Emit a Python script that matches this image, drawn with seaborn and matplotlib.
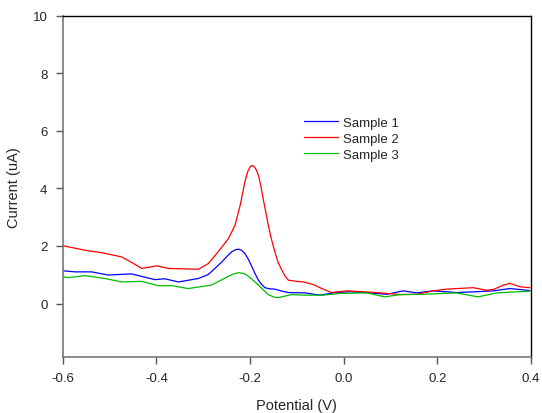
import matplotlib
matplotlib.use("Agg")
import matplotlib.pyplot as plt
import seaborn as sns
import pandas as pd

# Sample 1 (blue)
s1_x = [-0.600, -0.574, -0.538, -0.503, -0.453, -0.403, -0.382, -0.353, -0.310, -0.289,
        -0.275, -0.260, -0.248, -0.239, -0.231, -0.225, -0.218, -0.211, -0.203, -0.196,
        -0.189, -0.182, -0.175, -0.168, -0.158, -0.147, -0.132, -0.118, -0.083,
        -0.051, -0.022, 0.013, 0.056, 0.092, 0.127, 0.156, 0.191, 0.241, 0.284,
        0.320, 0.355, 0.398]
s1_y = [1.14, 1.10, 1.10, 0.99, 1.03, 0.83, 0.86, 0.75, 0.87, 1.01,
        1.22, 1.45, 1.66, 1.80, 1.87, 1.89, 1.85, 1.74, 1.52, 1.28,
        1.03, 0.81, 0.66, 0.55, 0.51, 0.50, 0.43, 0.38, 0.37,
        0.29, 0.37, 0.41, 0.37, 0.32, 0.44, 0.37, 0.44, 0.38, 0.41,
        0.44, 0.52, 0.45]

# Sample 2 (red)
s2_x = [-0.600, -0.545, -0.517, -0.474, -0.453, -0.431, -0.399, -0.374, -0.310, -0.289,
        -0.268, -0.246, -0.232, -0.221, -0.211, -0.205, -0.200, -0.196, -0.192, -0.187,
        -0.182, -0.177, -0.172, -0.166, -0.161, -0.154, -0.147, -0.140, -0.132, -0.125,
        -0.118, -0.100, -0.086, -0.065, -0.044, -0.026, 0.006, 0.042, 0.071,
        0.092, 0.120, 0.156, 0.191, 0.220, 0.277, 0.305, 0.320, 0.341, 0.355,
        0.377, 0.398]
s2_y = [2.01, 1.83, 1.77, 1.62, 1.43, 1.22, 1.31, 1.22, 1.19, 1.39,
        1.80, 2.26, 2.72, 3.42, 4.23, 4.58, 4.75, 4.80, 4.78, 4.66,
        4.46, 4.10, 3.65, 3.15, 2.72, 2.22, 1.80, 1.43, 1.16, 0.95,
        0.81, 0.77, 0.75, 0.66, 0.50, 0.38, 0.44, 0.41, 0.38,
        0.35, 0.31, 0.32, 0.44, 0.50, 0.55, 0.46, 0.49, 0.64, 0.70,
        0.58, 0.55]

# Sample 3 (green)
s3_x = [-0.600, -0.588, -0.552, -0.510, -0.474, -0.431, -0.396, -0.367, -0.332, -0.282,
        -0.253, -0.238, -0.225, -0.215, -0.207, -0.195, -0.182, -0.171, -0.161, -0.150,
        -0.140, -0.125, -0.111, -0.083, -0.044, -0.008,
        0.049, 0.088, 0.120, 0.170, 0.241, 0.287, 0.327, 0.398]
s3_y = [0.93, 0.90, 0.97, 0.87, 0.75, 0.77, 0.62, 0.62, 0.52, 0.64,
        0.89, 1.01, 1.07, 1.05, 0.99, 0.83, 0.64, 0.46, 0.31, 0.23,
        0.20, 0.26, 0.31, 0.29, 0.29, 0.35,
        0.37, 0.23, 0.31, 0.32, 0.37, 0.23, 0.37, 0.43]

labels = ["Sample 1", "Sample 2", "Sample 3"]
colors = ["#0000ff", "#ff0000", "#00bb00"]
x_ticks = [-0.6, -0.4, -0.2, 0.0, 0.2, 0.4]
x_tick_labels = ["-0.6", "-0.4", "-0.2", "0.0", "0.2", "0.4"]
y_ticks = [0, 2, 4, 6, 8, 10]

sns.set_style("white")
plt.rcParams["font.family"] = ["Liberation Sans", "DejaVu Sans"]

fig = plt.figure(figsize=(5.42, 4.14), dpi=100)
ax = fig.add_axes([0.1157, 0.136, 0.864, 0.823])

for xs, ys, lab, col in zip([s1_x, s2_x, s3_x], [s1_y, s2_y, s3_y], labels, colors):
    df = pd.DataFrame({"x": xs, "y": ys})
    sns.lineplot(data=df, x="x", y="y", ax=ax, color=col, linewidth=0.9,
                 label=lab, estimator=None, sort=False)

ax.set_xlim(-0.6, 0.4)
ax.set_ylim(-1.85, 10)
ax.set_xticks(x_ticks)
ax.set_xticklabels(x_tick_labels)
ax.set_yticks(y_ticks)
ax.tick_params(axis="both", which="major", direction="out", length=5, width=1,
               color="#555555", labelsize=9.5, pad=6, bottom=True, left=True)
for side in ["left", "bottom"]:
    ax.spines[side].set_color("#777777")
    ax.spines[side].set_linewidth(1.2)
for side in ["top", "right"]:
    ax.spines[side].set_color("#000000")
    ax.spines[side].set_linewidth(1.0)

ax.set_xlabel("Potential (V)", fontsize=10.5, labelpad=10)
ax.set_ylabel("Current (uA)", fontsize=10.5, labelpad=8)

leg = ax.legend(loc="upper left", bbox_to_anchor=(0.49, 0.74), frameon=False,
                fontsize=9.5, handlelength=2.6, handletextpad=0.35, labelspacing=0.28)

fig.savefig("out.png", dpi=100)
